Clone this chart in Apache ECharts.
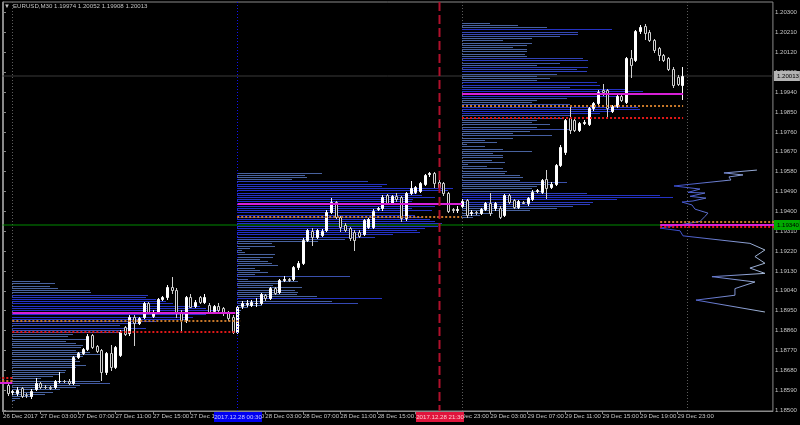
<!DOCTYPE html>
<html><head><meta charset="utf-8">
<script src="https://cdn.jsdelivr.net/npm/echarts@6/dist/echarts.min.js"></script>
<style>html,body{margin:0;padding:0;background:#000}#c{width:800px;height:425px}</style>
</head><body><div id="c"></div>
<script>
// ---------- data ----------
const symbolName = 'EURUSD,M30';
const firstBar = 1; // bar index 0 = 26 Dec 23:00, 30-minute bars
const ohlc = [
[1.18613,1.18624,1.18568,1.18575],[1.18581,1.18590,1.18572,1.18584],[1.18578,1.18602,1.18566,1.18590],[1.18598,1.18606,1.18557,1.18563],
[1.18570,1.18575,1.18560,1.18566],[1.18563,1.18593,1.18553,1.18587],[1.18593,1.18643,1.18590,1.18621],[1.18621,1.18628,1.18598,1.18603],
[1.18606,1.18613,1.18598,1.18603],[1.18603,1.18608,1.18594,1.18600],[1.18606,1.18637,1.18600,1.18631],[1.18631,1.18674,1.18628,1.18633],
[1.18633,1.18638,1.18625,1.18630],[1.18633,1.18640,1.18620,1.18624],[1.18624,1.18746,1.18618,1.18741],[1.18741,1.18765,1.18737,1.18759],
[1.18759,1.18782,1.18752,1.18776],[1.18776,1.18843,1.18770,1.18837],[1.18840,1.18846,1.18779,1.18787],[1.18790,1.18795,1.18763,1.18769],
[1.18772,1.18778,1.18636,1.18674],[1.18671,1.18762,1.18665,1.18757],[1.18757,1.18794,1.18681,1.18693],[1.18696,1.18790,1.18690,1.18784],
[1.18749,1.18861,1.18744,1.18855],[1.18874,1.18880,1.18838,1.18844],[1.18847,1.18930,1.18840,1.18923],[1.18923,1.18930,1.18794,1.18895],
[1.18895,1.18920,1.18890,1.18915],[1.18923,1.18990,1.18915,1.18983],[1.18983,1.18990,1.18940,1.18945],[1.18927,1.18952,1.18922,1.18945],
[1.18945,1.19008,1.18940,1.19001],[1.19005,1.19017,1.19000,1.19010],[1.19013,1.19066,1.19001,1.19055],[1.19058,1.19101,1.19031,1.19043],
[1.19043,1.19051,1.18923,1.18938],[1.18945,1.18953,1.18855,1.18908],[1.18908,1.19017,1.18900,1.19010],[1.19010,1.19025,1.18965,1.18968],
[1.18971,1.18998,1.18965,1.18990],[1.19010,1.19017,1.18983,1.18988],[1.18988,1.19025,1.18983,1.19010],[1.18975,1.18983,1.18940,1.18945],
[1.18950,1.18977,1.18945,1.18971],[1.18971,1.18983,1.18945,1.18953],[1.18960,1.18968,1.18932,1.18938],[1.18945,1.18950,1.18908,1.18915],
[1.18923,1.18930,1.18847,1.18855],
[1.18855,1.18975,1.18847,1.18968],[1.18969,1.18993,1.18962,1.18987],[1.18981,1.18999,1.18969,1.18984],[1.18976,1.18997,1.18970,1.18991],
[1.18984,1.19006,1.18969,1.18987],[1.18987,1.19030,1.18981,1.19024],[1.19021,1.19027,1.19000,1.19006],[1.19008,1.19058,1.19002,1.19052],
[1.19052,1.19058,1.19027,1.19032],[1.19036,1.19095,1.19030,1.19089],[1.19089,1.19105,1.19083,1.19093],[1.19092,1.19097,1.19083,1.19089],
[1.19094,1.19153,1.19088,1.19147],[1.19147,1.19174,1.19141,1.19168],[1.19168,1.19277,1.19162,1.19271],[1.19271,1.19322,1.19265,1.19316],
[1.19313,1.19324,1.19248,1.19283],[1.19283,1.19322,1.19277,1.19316],[1.19295,1.19320,1.19290,1.19313],[1.19316,1.19405,1.19310,1.19399],
[1.19396,1.19459,1.19391,1.19444],[1.19441,1.19447,1.19370,1.19376],[1.19373,1.19379,1.19313,1.19331],[1.19340,1.19346,1.19310,1.19316],
[1.19323,1.19330,1.19271,1.19278],[1.19308,1.19316,1.19225,1.19271],[1.19308,1.19316,1.19283,1.19289],[1.19298,1.19367,1.19292,1.19361],
[1.19331,1.19370,1.19325,1.19364],[1.19331,1.19410,1.19325,1.19403],[1.19410,1.19418,1.19404,1.19413],[1.19414,1.19473,1.19408,1.19467],
[1.19474,1.19480,1.19434,1.19440],[1.19440,1.19476,1.19434,1.19470],[1.19470,1.19482,1.19449,1.19455],[1.19464,1.19470,1.19358,1.19369],
[1.19369,1.19488,1.19363,1.19482],[1.19482,1.19539,1.19479,1.19504],[1.19488,1.19515,1.19482,1.19509],[1.19494,1.19533,1.19488,1.19527],
[1.19524,1.19571,1.19518,1.19565],[1.19571,1.19580,1.19558,1.19575],[1.19573,1.19579,1.19512,1.19527],[1.19535,1.19542,1.19505,1.19512],
[1.19527,1.19533,1.19476,1.19482],[1.19482,1.19488,1.19397,1.19403],[1.19410,1.19416,1.19398,1.19404],[1.19407,1.19425,1.19395,1.19410],
[1.19425,1.19455,1.19419,1.19449],
[1.19451,1.19456,1.19376,1.19383],[1.19393,1.19406,1.19383,1.19396],[1.19398,1.19403,1.19390,1.19396],[1.19391,1.19416,1.19386,1.19410],
[1.19410,1.19442,1.19405,1.19436],[1.19436,1.19481,1.19383,1.19391],[1.19413,1.19442,1.19408,1.19436],[1.19416,1.19424,1.19370,1.19376],
[1.19383,1.19480,1.19378,1.19474],[1.19474,1.19480,1.19437,1.19443],[1.19451,1.19457,1.19415,1.19421],[1.19421,1.19452,1.19415,1.19446],
[1.19443,1.19448,1.19436,1.19440],[1.19436,1.19465,1.19430,1.19459],[1.19456,1.19495,1.19450,1.19489],[1.19492,1.19500,1.19487,1.19495],
[1.19489,1.19548,1.19483,1.19542],[1.19546,1.19587,1.19459,1.19504],[1.19511,1.19532,1.19505,1.19526],[1.19526,1.19616,1.19520,1.19610],
[1.19610,1.19700,1.19604,1.19693],[1.19667,1.19820,1.19660,1.19813],[1.19821,1.19874,1.19753,1.19768],[1.19813,1.19819,1.19762,1.19768],
[1.19768,1.19804,1.19762,1.19798],[1.19800,1.19812,1.19795,1.19806],[1.19796,1.19872,1.19790,1.19866],[1.19866,1.19895,1.19860,1.19889],
[1.19889,1.19948,1.19883,1.19942],[1.19949,1.19979,1.19927,1.19942],[1.19949,1.19956,1.19821,1.19866],[1.19856,1.19883,1.19850,1.19877],
[1.19877,1.19928,1.19871,1.19922],[1.19922,1.19928,1.19898,1.19904],[1.19896,1.20099,1.19890,1.20093],[1.20093,1.20133,1.20010,1.20062],
[1.20085,1.20223,1.20079,1.20217],[1.20217,1.20242,1.20210,1.20236],[1.20240,1.20250,1.20183,1.20206],[1.20214,1.20220,1.20170,1.20176],
[1.20176,1.20182,1.20124,1.20130],[1.20138,1.20144,1.20085,1.20108],[1.20108,1.20114,1.20079,1.20085],[1.20093,1.20100,1.20040,1.20047],
[1.20047,1.20053,1.19965,1.19972],[1.20010,1.20016,1.19972,1.19976],[1.19974,1.20052,1.19908,1.20013]
];

// time axis labels (bar index -> text)
const xLabelBars = [0,8,16,24,32,40,48,56,64,72,80,88,96,104,112,120,128,136,144];
const xLabelTexts = ['26 Dec 2017','27 Dec 03:00','27 Dec 07:00','27 Dec 11:00','27 Dec 15:00','27 Dec 19:00','27 Dec 23:00',
  '28 Dec 03:00','28 Dec 07:00','28 Dec 11:00','28 Dec 15:00','28 Dec 19:00','28 Dec 23:00',
  '29 Dec 03:00','29 Dec 07:00','29 Dec 11:00','29 Dec 15:00','29 Dec 19:00','29 Dec 23:00'];
// price axis labels
const yTickValues = [1.18500,1.18590,1.18680,1.18770,1.18860,1.18950,1.19040,1.19130,1.19220,1.19310,1.19400,
  1.19490,1.19580,1.19670,1.19760,1.19850,1.19940,1.20030,1.20120,1.20210,1.20300];

// daily volume profiles: start bar, top price level, volumes per pip level (top -> bottom)
const p27Start = 2,  p27Top = 1.19081;
const p27Vol = [28,43,38,46,78,79,136,134,144,154,161,188,194,208,223,194,181,174,144,128,108,134,114,108,61,56,74,54,64,71,
  69,64,78,88,71,64,68,61,74,64,54,53,48,41,29,88,98,68,64,48,41,33,21,8,3];
const p28Start = 50, p28Top = 1.19573;
const p28Vol = [85,68,70,55,131,150,145,216,211,180,185,198,176,175,228,198,175,195,166,178,185,193,198,205,201,188,180,183,156,138,
  108,81,35,38,13,5,8,38,36,23,31,35,41,18,23,31,18,113,11,61,41,36,65,58,61,60,80,145,95,121,25,11,4,3,3,2,3,2,2,3,2,2,1];
const p29Start = 98, p29Top = 1.20252;
const p29Vol = [28,56,85,150,116,116,98,70,41,70,65,51,65,65,63,65,121,126,98,75,126,115,125,95,75,88,75,135,138,108,
  166,181,215,155,105,75,70,108,176,178,151,138,108,101,75,70,88,75,108,68,51,90,51,23,35,5,23,41,70,31,
  41,41,30,43,6,25,41,45,43,58,61,58,105,91,75,70,81,125,198,211,155,131,128,111,95,68,31,18,11];

// profile level lines: [startBar, endBar, price]
const pocLines = [[-1,2,1.18622],[2,49.6,1.18941],[50,98,1.19433],[98,145.2,1.19932],[140.3,170,1.19337]];
const upperDotLines = [[-1,2,1.18633],[2,50.7,1.18905],[50,98,1.19376],[98,145.2,1.19877],[140.3,170,1.19351]];
const lowerDotLines = [[-1,2,1.18644],[2,49.6,1.18853],[98,145.2,1.19823],[140.3,170,1.19327]];

// composite profile drawn from the right edge: price, volume
const rpPrices = [1.19587,1.19574,1.19565,1.19556,1.19542,1.19515,1.19501,1.19486,1.19483,1.19468,1.19460,1.19447,1.19442,1.19429,
  1.19410,1.19392,1.19377,1.19354,1.19324,1.19312,1.19289,1.19255,1.19225,1.19195,1.19165,1.19143,1.19119,1.19104,1.19080,1.19050,
  1.19020,1.18998,1.18944];
const rpVols = [16,49,30,44,42,99,73,85,68,83,67,80,91,81,78,65,68,73,113,93,90,23,8,18,8,23,8,61,18,38,38,77,8];

// session separators and marked times
const daySepBars = [2,98,146];
const blueLineBar = 50, blueLineText = '2017.12.28 00:30';
const redLineBar = 93, redLineText = '2017.12.28 21:30';
const hLinePrice = 1.19340;
const lastPrice = ohlc[ohlc.length-1][3];

// ---------- layout ----------
const X_MIN = -0.1067, X_MAX = 164.37;
const Y_MIN = 1.184955, Y_MAX = 1.203484;
const PIP = 0.0001;
const VOL_PER_BAR = 4.6875;
const TXT = '#c4c4c4';

// choose the narrowest available UI font so that "27 Dec 03:00" is about 32px wide
const FONT_INFO = (function () {
  const cands = ['"Liberation Sans Narrow"', '"DejaVu Sans Condensed"', '"Liberation Sans"', '"Noto Sans"', 'Roboto', '"DejaVu Sans"'];
  const ctx = document.createElement('canvas').getContext('2d');
  let best = cands[0], bestW = 1e9;
  for (const f of cands) {
    ctx.font = '7px ' + f;
    const w = ctx.measureText('27 Dec 03:00').width;
    if (w < bestW) { bestW = w; best = f; }
  }
  const size = Math.max(6, Math.min(7, 7 * 33 / bestW));
  return {family: best + ',sans-serif', size: size};
})();
const FONT = FONT_INFO.family, FS = FONT_INFO.size;

const chart = echarts.init(document.getElementById('c'));

function mixColor(a, b, t) {
  const r = Math.round(a[0] + (b[0]-a[0])*t), g = Math.round(a[1] + (b[1]-a[1])*t), bl = Math.round(a[2] + (b[2]-a[2])*t);
  return 'rgb(' + r + ',' + g + ',' + bl + ')';
}
const LOW_C = [72,98,158], HIGH_C = [36,50,196];

function profileSeries(startBar, top, vols) {
  const maxV = Math.max.apply(null, vols);
  return {
    type: 'custom', silent: true, z: 2,
    data: vols.map((v, k) => [startBar, top - k*PIP, v]),
    renderItem(params, api) {
      const sb = api.value(0), price = api.value(1), v = api.value(2);
      const p0 = api.coord([sb, price]);
      const p1 = api.coord([sb + v / VOL_PER_BAR, price]);
      let t = (v / maxV - 0.4) / 0.25; t = Math.max(0, Math.min(1, t));
      return {type: 'rect', shape: {x: Math.round(p0[0]), y: Math.floor(p0[1]), width: Math.max(1, Math.round(p1[0]-p0[0])), height: 1},
        style: {fill: mixColor(LOW_C, HIGH_C, t)}};
    }
  };
}

function segSeries(segs, color, width, dash, z) {
  return {
    type: 'custom', silent: true, z: z,
    data: segs,
    renderItem(params, api) {
      const a = api.coord([api.value(0), api.value(2)]);
      const b = api.coord([api.value(1), api.value(2)]);
      const y = Math.round(a[1]);
      return {type: 'line', shape: {x1: a[0], y1: y, x2: b[0], y2: y},
        style: {stroke: color, lineWidth: width, lineDash: dash}};
    }
  };
}

function vSeries(bars, color, width, dash, z) {
  return {
    type: 'custom', silent: true, z: z,
    data: bars.map(b => [b]),
    renderItem(params, api) {
      const a = api.coord([api.value(0), Y_MAX]);
      const b = api.coord([api.value(0), Y_MIN]);
      const x = Math.round(a[0]) + 0.5;
      return {type: 'line', shape: {x1: x, y1: a[1], x2: x, y2: b[1]}, style: {stroke: color, lineWidth: width, lineDash: dash}};
    }
  };
}

const candleSeries = {
  type: 'custom', silent: true, z: 4,
  data: ohlc.map((d, k) => [firstBar + k, d[0], d[1], d[2], d[3]]),
  renderItem(params, api) {
    const i = api.value(0), o = api.value(1), h = api.value(2), l = api.value(3), c = api.value(4);
    const pO = api.coord([i, o]), pC = api.coord([i, c]), pH = api.coord([i, h]), pL = api.coord([i, l]);
    const cx = Math.round(pO[0]);
    const top = Math.round(Math.min(pO[1], pC[1])), bot = Math.round(Math.max(pO[1], pC[1]));
    const bull = c >= o;
    const col = bull ? '#ffffff' : '#d0d0d0';
    return {type: 'group', children: [
      {type: 'line', shape: {x1: cx+0.5, y1: Math.round(pH[1]), x2: cx+0.5, y2: Math.round(pL[1])+1}, style: {stroke: col, lineWidth: 1}},
      {type: 'rect', shape: {x: cx-0.5, y: top+0.5, width: 2, height: Math.max(bot-top, 0)},
        style: {fill: bull ? '#ffffff' : '#000000', stroke: col, lineWidth: 1}}
    ]};
  }
};

const priceTags = {
  type: 'custom', silent: true, z: 10, clip: false,
  data: [[lastPrice, 0], [hLinePrice, 1]],
  renderItem(params, api) {
    const p = api.coord([X_MAX, api.value(0)]);
    const green = api.value(1) === 1;
    const y = Math.round(p[1]);
    return {type: 'group', children: [
      {type: 'rect', shape: {x: p[0]+1, y: y-5, width: 26, height: 10}, style: {fill: green ? '#00a800' : '#b4b4b4'}},
      {type: 'text', style: {x: p[0]+4, y: y, text: api.value(0).toFixed(5), fill: '#000', font: FS + 'px ' + FONT, verticalAlign: 'middle'}}
    ]};
  }
};

const timeTags = {
  type: 'custom', silent: true, z: 10, clip: false,
  data: [[blueLineBar, 0], [redLineBar, 1]],
  renderItem(params, api) {
    const p = api.coord([api.value(0), Y_MIN]);
    const red = api.value(1) === 1;
    const x = Math.round(p[0]) + 1;
    return {type: 'group', children: [
      {type: 'rect', shape: {x: x-24, y: p[1]+1, width: 48, height: 10}, style: {fill: red ? '#e0143c' : '#0000f0'}},
      {type: 'text', style: {x: x, y: p[1]+6, text: red ? redLineText : blueLineText, fill: red ? '#ffc8d0' : '#c8c8ff', font: FS + 'px ' + FONT, align: 'center', verticalAlign: 'middle'}}
    ]};
  }
};

const option = {
  backgroundColor: '#000000',
  animation: false,
  grid: {left: 2, right: 27, top: 2, bottom: 14, show: true, borderColor: '#8a8a8a', borderWidth: 1, backgroundColor: '#000'},
  graphic: [
    {type: 'text', left: 4, top: 3, style: {text: '\u25BC', fill: TXT, font: '6px ' + FONT}},
    {type: 'text', left: 13, top: 3, style: {text: symbolName + ' ' + ohlc[ohlc.length-1].map(v => v.toFixed(5)).join(' '), fill: TXT, font: FS + 'px ' + FONT}}
  ],
  xAxis: {
    type: 'value', min: X_MIN, max: X_MAX,
    axisLine: {show: true, lineStyle: {color: '#8a8a8a'}},
    axisTick: {show: true, length: 3, customValues: xLabelBars, lineStyle: {color: '#8a8a8a'}},
    axisLabel: {customValues: xLabelBars, showMinLabel: true, showMaxLabel: true, hideOverlap: false,
      formatter: v => { const k = xLabelBars.indexOf(Math.round(v)); return k >= 0 ? xLabelTexts[k] : ''; },
      align: 'left', margin: 2, color: TXT, fontSize: FS, fontFamily: FONT},
    splitLine: {show: false}
  },
  yAxis: {
    type: 'value', position: 'right', min: Y_MIN, max: Y_MAX, scale: true,
    axisLine: {show: true, lineStyle: {color: '#8a8a8a'}},
    axisTick: {show: true, length: 3, customValues: yTickValues, lineStyle: {color: '#8a8a8a'}},
    axisLabel: {customValues: yTickValues, showMinLabel: true, showMaxLabel: true, formatter: v => v.toFixed(5), margin: 2, color: TXT, fontSize: FS, fontFamily: FONT},
    splitLine: {show: false}
  },
  series: [
    segSeries([[X_MIN, X_MAX, lastPrice]], '#3a3a3a', 1, null, 1),
    vSeries(daySepBars, '#5c5c5c', 1, [1, 2], 1),
    profileSeries(p27Start, p27Top, p27Vol),
    profileSeries(p28Start, p28Top, p28Vol),
    profileSeries(p29Start, p29Top, p29Vol),
    segSeries([[X_MIN, X_MAX, hLinePrice]], '#008a00', 1, null, 3),
    {
      type: 'line', silent: true, z: 3, showSymbol: false, symbol: 'none',
      data: rpPrices.map((p, k) => [X_MAX - rpVols[k] / VOL_PER_BAR, p]),
      lineStyle: {width: 1, color: new echarts.graphic.LinearGradient(0, 0, 1, 0, [{offset: 0, color: '#2436c8'}, {offset: 1, color: '#a8bcd6'}])}
    },
    candleSeries,
    segSeries(upperDotLines, '#c8782a', 2, [2, 2], 5),
    segSeries(lowerDotLines, '#e01818', 2, [2, 2], 5),
    segSeries(pocLines, '#d820d8', 2, null, 5),
    vSeries([blueLineBar], '#1010f0', 1, [1, 2], 6),
    vSeries([redLineBar], '#b0102c', 2, [9, 4], 6),
    priceTags,
    timeTags
  ]
};
chart.setOption(option);
</script></body></html>
